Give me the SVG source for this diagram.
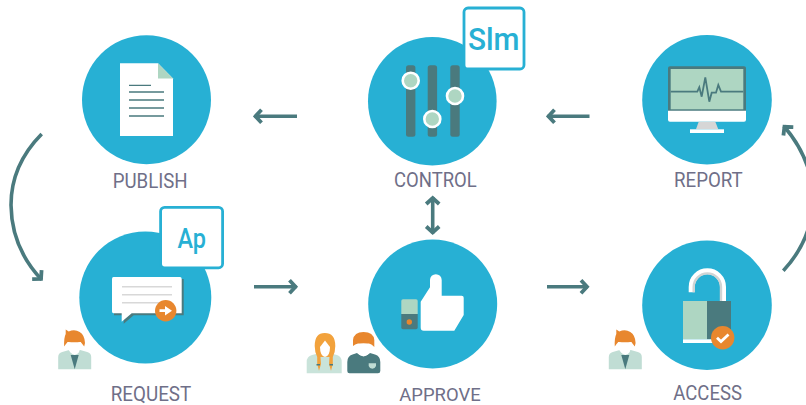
<svg xmlns="http://www.w3.org/2000/svg" xmlns:xlink="http://www.w3.org/1999/xlink" width="806" height="405" viewBox="0 0 806 405">
<style>
.disc{fill:#27b0d4}
.lbl{font-family:Roboto,"Liberation Sans",sans-serif;font-weight:400;font-size:20px;fill:#6f6f88}
.badge{fill:#fff;stroke:#27b0d4;stroke-width:2.8}
.btxt{font-family:Roboto,"Liberation Sans",sans-serif;fill:#27b0d4}
.conn{fill:none;stroke:#4a7a7e;stroke-width:3.6}
.teal{fill:#4a7a7e}
.mint{fill:#aed6c2}
.white{fill:#fff}
.orange{fill:#e8872e}
.docline{stroke:#4a7a7e;stroke-width:1.3}
.gline{stroke:#d8d8d8;stroke-width:1.6}
</style>
<defs>
<marker id="head" markerUnits="userSpaceOnUse" markerWidth="12" markerHeight="18" viewBox="0 0 12 18" refX="10" refY="9" orient="auto-start-reverse">
<path d="M3 2.500 L9 9 L3 15.500" fill="none" stroke="#4a7a7e" stroke-width="3.800"/>
</marker>
<g id="man">
<path d="M0 19.300 V7 Q0 3 4 2 L11 0 H22 L29 2 Q33 3 33 7 V19.300 Z" transform="translate(-16.500 350)" fill="#c0ddd4"/>
<path d="M-4 355 H4 L0 369.300 Z" class="teal"/>
<path d="M-4.500 352 Q0 358 4.500 352 L4 347 H-4 Z" class="white"/>
<path d="M-10.500 346.500 Q-11 338 -9 334 L-9 329.500 L-6 331.500 Q0 329 5 332 Q10 335 10.300 343 L9.500 346.500 Q7 343 6 342 Q0 343 -7 342 Q-9 344 -10.500 346.500 Z" class="orange"/>
<path d="M-7 342 Q0 343 6 342 V347 Q5 353 0 354 Q-6 353 -7 347 Z" class="white"/>
</g>
</defs>
<rect width="806" height="405" fill="#fff"/>

<g id="connectors">
<path class="conn" marker-end="url(#head)" d="M297 116.300 H254.500"/>
<path class="conn" marker-end="url(#head)" d="M589.500 116.300 H547.500"/>
<path class="conn" marker-end="url(#head)" d="M254 286.700 H296.500"/>
<path class="conn" marker-end="url(#head)" d="M547 286.700 H588"/>
<path class="conn" marker-start="url(#head)" marker-end="url(#head)" d="M432.700 197 V233.500"/>
<path class="conn" marker-end="url(#head)" d="M41.700 134 Q11 165 11 205 Q11.500 248 41.700 279.700"/>
<path class="conn" marker-end="url(#head)" d="M783.300 270.700 Q812 240 813 200 Q813 160 783.800 126"/>
</g>

<g id="publish">
<circle class="disc" cx="146.500" cy="99.700" r="64.500"/>
<path class="white" d="M120 63.300 H158 L173 78.500 V136 H120 Z"/>
<path class="mint" d="M158 63.300 L173 78.500 H158 Z"/>
<path class="docline" d="M129 85.300 H151 M129 92 H164 M129 100 H164 M129 108 H164 M129 116 H164"/>
<text class="lbl" x="112.700" y="188" textLength="75" lengthAdjust="spacingAndGlyphs">PUBLISH</text>
</g>

<g id="request">
<circle class="disc" cx="145.300" cy="297.500" r="66"/>
<rect class="badge" x="160.600" y="207.300" width="62" height="60.500" rx="4"/>
<text class="btxt" x="177.500" y="248" font-size="28" font-weight="500" textLength="28.500" lengthAdjust="spacingAndGlyphs">Ap</text>
<path class="teal" d="M114 279 H183.700 V315.300 H133.700 L123.700 323.700 V315.300 H114 Z"/>
<path class="white" d="M113.500 277 H180 Q181.700 277 181.700 279 V313.300 H131.700 L121.700 321.700 V313.300 H113.500 Q112 313.300 112 311.500 V279 Q112 277 113.500 277 Z"/>
<path class="gline" d="M122 286.700 H172 M122 294.700 H172 M122 302.700 H172"/>
<circle class="orange" cx="165.700" cy="310.700" r="10.700"/>
<path class="white" d="M159.500 309.300 H165 V306 L172 310.700 L165 315.400 V312.100 H159.500 Z"/>
<use xlink:href="#man" href="#man" x="74.700"/>
<text class="lbl" x="110.700" y="400.500" textLength="80.600" lengthAdjust="spacingAndGlyphs">REQUEST</text>
</g>

<g id="control">
<circle class="disc" cx="432.300" cy="101.200" r="64.300"/>
<rect class="teal" x="406" y="65.300" width="9.400" height="71.400" rx="2.500"/>
<rect class="teal" x="427.700" y="65.300" width="9.400" height="71.400" rx="2.500"/>
<rect class="teal" x="450.300" y="65.300" width="9.400" height="71.400" rx="2.500"/>
<circle class="mint" cx="410.700" cy="80.700" r="8" stroke="#fff" stroke-width="2.600"/>
<circle class="mint" cx="432.300" cy="119" r="8" stroke="#fff" stroke-width="2.600"/>
<circle class="mint" cx="455" cy="96" r="8" stroke="#fff" stroke-width="2.600"/>
<rect class="badge" x="464" y="8" width="60" height="61" rx="4"/>
<text class="btxt" x="468" y="50" font-size="32" font-weight="500" textLength="51.500" lengthAdjust="spacingAndGlyphs">Slm</text>
<text class="lbl" x="394" y="187.300" textLength="82.700" lengthAdjust="spacingAndGlyphs">CONTROL</text>
</g>

<g id="approve">
<circle class="disc" cx="432.700" cy="304" r="64.500"/>
<path class="white" d="M420.700 327.500 V301.700 L430 287.300 V280 A5.800 5.800 0 0 1 441.700 280 V295.700 H461.700 Q463.700 295.700 463.700 297.700 V315 L454.300 330.700 H423.700 Q420.700 330.700 420.700 327.500 Z"/>
<path class="mint" d="M401.300 314 V301 Q401.300 299.300 403 299.300 H416 Q417.700 299.300 417.700 301 V314 Z"/>
<path class="teal" d="M401.300 314 H417.700 V327.500 Q417.700 329.300 416 329.300 H403 Q401.300 329.300 401.300 327.500 Z"/>
<circle class="orange" cx="409.300" cy="322" r="2.700"/>
<path d="M306.700 373.300 V362 Q306.700 356.500 312 355 L318 353.500 H331 L337 355 Q341.700 356.500 341.700 362 V373.300 Z" fill="#c9e3da"/>
<path d="M314.700 346 Q314.700 333 324.700 333 Q335.300 333 335.300 346 Q335.300 352 332.800 357 L332.800 364 L331 370.700 L329 364 L329.500 357 L320.500 357 L321 364 L319 370.700 L317.200 364 L317.200 357 Q314.700 352 314.700 346 Z" fill="#f2a23c"/>
<path class="white" d="M320 347 L325 340.500 L330 347 Q330 356 325 357 Q320 356 320 347 Z"/>
<path class="teal" d="M316.500 364 H320 V365.500 H316.500 Z M329.500 364 H333 V365.500 H329.500 Z"/>
<path class="teal" d="M347.300 371 V362 Q347.300 356 352.500 354.500 L357 353 Q363.500 359 370 353 L375 354.500 Q380.300 356 380.300 362 V371 Q380.300 373.300 378 373.300 H349.500 Q347.300 373.300 347.300 371 Z"/>
<path d="M368.700 363.300 H376 V366 Q375 368.700 372.300 368.700 Q369.700 368.700 368.700 366 Z" fill="#c0ddd4"/>
<path class="orange" d="M353 346 V340 Q354 332 363.500 332 Q373.500 332 374.300 340 V347 Q372 344 369 343.500 H358 Q355 344 353 346 Z"/>
<path class="white" d="M355.500 345 Q363.500 342 371.500 345 V349 Q370 355 363.500 356.500 Q357 355 355.500 349 Z"/>
<text class="lbl" x="399.300" y="400.500" font-size="19" style="font-size:19px" textLength="81.400" lengthAdjust="spacingAndGlyphs">APPROVE</text>
</g>

<g id="report">
<circle class="disc" cx="707" cy="99.700" r="64.800"/>
<path class="teal" d="M668 68 Q668 66.300 670 66.300 H744 Q746 66.300 746 68 V111 H668 Z"/>
<rect class="mint" x="670.700" y="69" width="72.600" height="40.300"/>
<path class="white" d="M668 110.700 H746 V119.700 Q746 121.700 744 121.700 H670 Q668 121.700 668 119.700 Z"/>
<path d="M698.700 121.700 H715.300 L718.300 129.300 H696 Z" fill="#d6d6d6"/>
<rect class="white" x="690" y="129.300" width="34" height="3.700"/>
<path d="M670.700 91.700 H697.300 L699.300 87.300 L701.700 96.700 L705.300 77.300 L709.300 101.700 L711.700 92.700 H716 L718.300 85 L721 91.700 H743.300" fill="none" stroke="#4a7a7e" stroke-width="1.800"/>
<text class="lbl" x="674" y="187.300" textLength="68.700" lengthAdjust="spacingAndGlyphs">REPORT</text>
</g>

<g id="access">
<circle class="disc" cx="707" cy="305.200" r="64.800"/>
<path d="M691.700 292.300 V287 A15.650 15.650 0 0 1 723 287 V301" fill="none" stroke="#fff" stroke-width="6"/>
<path d="M693.700 292.300 V287 A13.650 13.650 0 0 1 721 287 V301" fill="none" stroke="#d0d4d4" stroke-width="2.400"/>
<rect class="mint" x="683" y="301" width="24" height="38.300"/>
<rect class="teal" x="707" y="301" width="24" height="38.300"/>
<rect class="white" x="683" y="339.300" width="30" height="3.700"/>
<circle class="orange" cx="722.700" cy="337.700" r="11.700"/>
<path d="M717 337.700 L721 341.500 L728.500 334.500" fill="none" stroke="#fff" stroke-width="2.800"/>
<use xlink:href="#man" href="#man" x="625.300"/>
<text class="lbl" x="673.300" y="400" textLength="68.700" lengthAdjust="spacingAndGlyphs">ACCESS</text>
</g>
</svg>
